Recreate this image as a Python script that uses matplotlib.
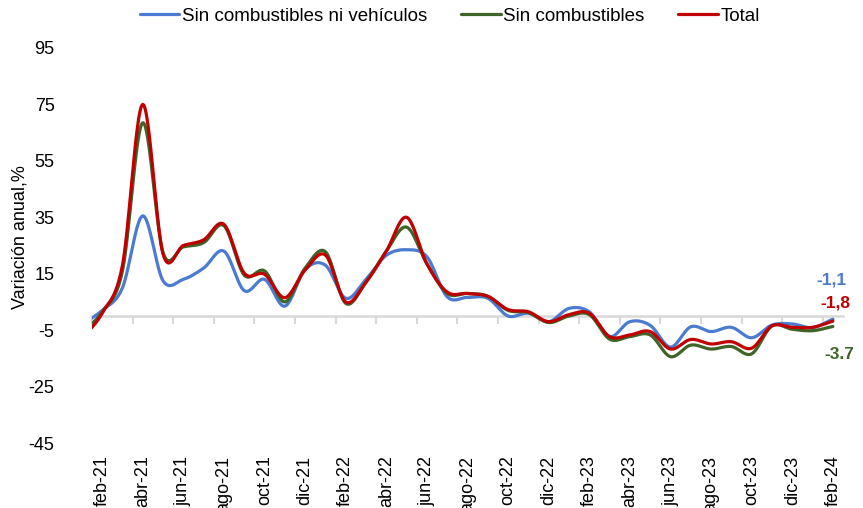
import numpy as np
import matplotlib
matplotlib.use("Agg")
import matplotlib.pyplot as plt

plt.rcParams['font.family'] = ['Liberation Sans', 'DejaVu Sans']

months = ["ene-21", "feb-21", "mar-21", "abr-21", "may-21", "jun-21", "jul-21", "ago-21",
          "sep-21", "oct-21", "nov-21", "dic-21", "ene-22", "feb-22", "mar-22", "abr-22",
          "may-22", "jun-22", "jul-22", "ago-22", "sep-22", "oct-22", "nov-22", "dic-22",
          "ene-23", "feb-23", "mar-23", "abr-23", "may-23", "jun-23", "jul-23", "ago-23",
          "sep-23", "oct-23", "nov-23", "dic-23", "ene-24", "feb-24"]

sin_comb_ni_veh = [-3, 2, 10, 35.5, 12.5, 13, 17, 23, 9, 13, 3.5, 16.5, 18, 6.3, 13, 21.5,
                   23.5, 21, 6.8, 6.6, 6.3, 0, 1, -2, 2.7, 1.5, -7.3, -2, -3.3, -11, -3.8,
                   -5.5, -4, -7.7, -3.2, -2.8, -4.1, -1.1]
sin_comb = [-6, 1.5, 16, 68.5, 22.5, 24.5, 26, 32, 14.5, 16, 5, 17, 22.8, 4.5, 12, 23,
            31.5, 18.5, 8, 8, 7, 2, 1.2, -2.3, 0, 0.5, -8.2, -7.3, -6.7, -14.4, -10.3,
            -11.7, -10.8, -13.4, -3.5, -4.7, -5.2, -3.7]
total = [-8, 1, 18, 75, 22, 25, 27, 32.5, 15.2, 14.8, 6.5, 16.3, 21.6, 5, 12, 23,
         35, 18.5, 8.5, 8, 7, 2.3, 1.5, -2, 0.5, 1, -7.3, -6.7, -5.5, -11.7, -8.3,
         -9.9, -9.1, -11.4, -3.5, -4, -4, -1.8]

series_names = ["Sin combustibles ni vehículos", "Sin combustibles", "Total"]
end_labels = ["-1,1", "-1,8", "-3.7"]
y_ticks = [-45, -25, -5, 15, 35, 55, 75, 95]

colors = ["#4A7BD0", "#3F6428", "#C00000"]


def smooth(xs, ys, n=24):
    xs = np.asarray(xs, float)
    p = np.asarray(ys, float)
    pp = np.concatenate([[2 * p[0] - p[1]], p, [2 * p[-1] - p[-2]]])
    ox, oy = [], []
    t = np.linspace(0, 1, n, endpoint=False)
    h00 = 2 * t**3 - 3 * t**2 + 1
    h10 = t**3 - 2 * t**2 + t
    h01 = -2 * t**3 + 3 * t**2
    h11 = t**3 - t**2
    for i in range(len(p) - 1):
        p0, p1, p2, p3 = pp[i], pp[i + 1], pp[i + 2], pp[i + 3]
        m1 = (p2 - p0) / 2
        m2 = (p3 - p1) / 2
        oy.append(h00 * p1 + h10 * m1 + h01 * p2 + h11 * m2)
        ox.append(xs[i] + t * (xs[i + 1] - xs[i]))
    ox.append([xs[-1]])
    oy.append([p[-1]])
    return np.concatenate(ox), np.concatenate(oy)


fig = plt.figure(figsize=(8.63, 5.08), dpi=100)
ax = fig.add_axes([92 / 863, 1 - 443 / 508, 751 / 863, 395 / 508])

x = np.arange(len(months)) - 1  # feb-21 at 0
for vals, name, c in zip([sin_comb_ni_veh, sin_comb, total], series_names, colors):
    sx, sy = smooth(x, vals)
    ax.plot(sx, sy, color=c, lw=2.3, label=name, solid_capstyle='round', zorder=3)

ax.set_xlim(-0.5, len(months) - 1.5)
ax.set_ylim(-45, 95)

for s in ['top', 'right', 'left', 'bottom']:
    ax.spines[s].set_visible(False)

# category labels at bottom
label_pos = x[1::2]
ax.set_xticks(label_pos)
ax.set_xticklabels(months[1::2], rotation=90, fontsize=13)
ax.tick_params(axis='x', length=0, pad=9)

ax.set_yticks(y_ticks)
ax.set_yticklabels([str(v) for v in y_ticks], fontsize=13)
ax.tick_params(axis='y', length=0, pad=27)

# zero axis line with tick marks
ymin, ymax = ax.get_ylim()
sec = ax.secondary_xaxis((0 - ymin) / (ymax - ymin))
sec.set_xticks(np.arange(-0.5, len(months) - 1.5, 2))
sec.set_xticklabels([])
sec.tick_params(axis='x', direction='out', length=6, width=1.5, color='#D9D9D9')
for s in sec.spines.values():
    s.set_color('#D9D9D9')
    s.set_linewidth(1.8)

fig.text(20 / 863, 1 - 237 / 508, "Variación anual,%", rotation=90,
         ha='center', va='center', fontsize=13)

# end labels
last = len(months) - 2
ax.text(last - 0.05, 12.7, end_labels[0], color=colors[0], fontsize=12.5,
        fontweight='bold', ha='center', va='center')
ax.text(last + 0.1, 4.6, end_labels[1], color=colors[2], fontsize=12.5,
        fontweight='bold', ha='center', va='center')
ax.text(last + 0.3, -13.8, end_labels[2], color=colors[1], fontsize=12.5,
        fontweight='bold', ha='center', va='center')

fig.legend(loc='center', bbox_to_anchor=(450 / 863, 1 - 16 / 508), ncol=3,
           frameon=False, fontsize=13.5, handlelength=2.1, handletextpad=0.15,
           columnspacing=1.8)

fig.savefig("out.png", dpi=100)
